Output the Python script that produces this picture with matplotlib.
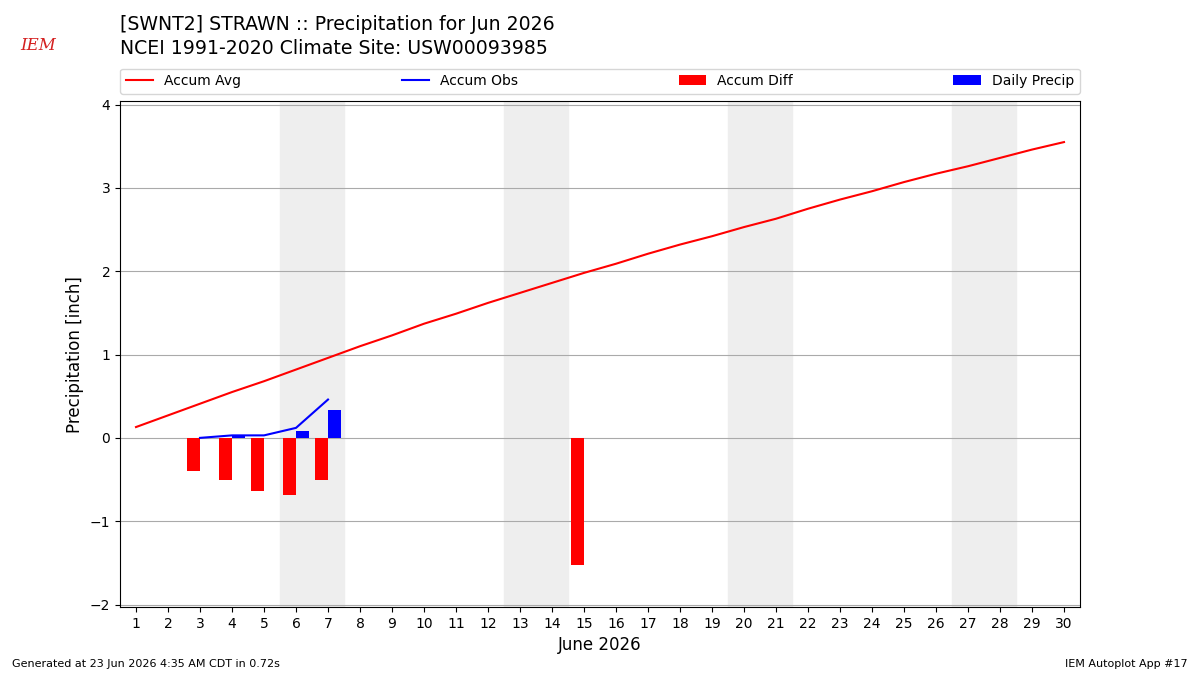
import matplotlib
matplotlib.use('Agg')
import matplotlib.pyplot as plt
import numpy as np

# data
days = list(range(1, 31))
accum_avg = [0.13, 0.27, 0.41, 0.55, 0.68, 0.82, 0.96, 1.10, 1.23, 1.37,
             1.49, 1.62, 1.74, 1.86, 1.98, 2.09, 2.21, 2.32, 2.42, 2.53,
             2.63, 2.75, 2.86, 2.96, 3.07, 3.17, 3.26, 3.36, 3.46, 3.55]
obs_days = [3, 4, 5, 6, 7]
accum_obs = [0.0, 0.03, 0.03, 0.12, 0.46]
diff_days = [3, 4, 5, 6, 7, 15]
accum_diff = [-0.40, -0.51, -0.64, -0.69, -0.51, -1.53]
precip_days = [4, 6, 7]
daily_precip = [0.02, 0.08, 0.34]
weekends = [6, 13, 20, 27]

fig = plt.figure(figsize=(12, 6.75), dpi=100)
ax = fig.add_axes([0.1, 0.1007, 0.8, 0.7493])

for d in weekends:
    ax.axvspan(d - 0.5, d + 1.5, color='#eeeeee', zorder=0)

ax.plot(days, accum_avg, color='r', label='Accum Avg', zorder=3)
ax.plot(obs_days, accum_obs, color='b', label='Accum Obs', zorder=3)
ax.bar(diff_days, accum_diff, width=-0.4, align='edge', color='r',
       label='Accum Diff', zorder=2)
ax.bar(precip_days, daily_precip, width=0.4, align='edge', color='b',
       label='Daily Precip', zorder=2)

ax.set_xlim(0.5, 30.5)
ax.set_ylim(-2.03, 4.04)
ax.set_xticks(days)
ax.set_yticks([-2, -1, 0, 1, 2, 3, 4])
ax.grid(axis='y', color='#aaaaaa', zorder=1)
ax.set_axisbelow(True)
ax.set_xlabel('June 2026', fontsize=12)
ax.set_ylabel('Precipitation [inch]', fontsize=12)

ax.legend(loc='lower left', bbox_to_anchor=(0, 1.015, 1, 0.05), ncol=4,
          mode='expand', borderaxespad=0, fontsize=10)

fig.text(0.1, 0.963, '[SWNT2] STRAWN :: Precipitation for Jun 2026',
         fontsize=13.6, va='center')
fig.text(0.1, 0.928, 'NCEI 1991-2020 Climate Site: USW00093985',
         fontsize=13.6, va='center')
fig.text(0.017, 0.933, 'IEM', color='#d42020', fontsize=12,
         family='DejaVu Serif', style='italic', va='center')

fig.text(0.01, 0.012, 'Generated at 23 Jun 2026 4:35 AM CDT in 0.72s',
         fontsize=8)
fig.text(0.99, 0.012, 'IEM Autoplot App #17', fontsize=8, ha='right')

fig.savefig('out.png')
